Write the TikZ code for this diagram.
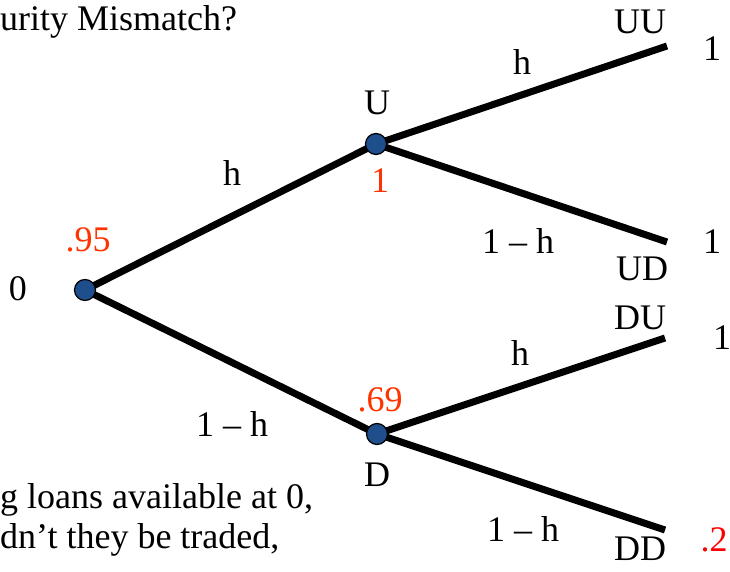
\documentclass[tikz,border=0pt]{standalone}
\usepackage{fontspec}
\setmainfont{Liberation Serif}
\usepackage{tikz}
\definecolor{nodeblue}{RGB}{31,78,140}
\definecolor{valorange}{RGB}{255,51,0}
\definecolor{valred}{RGB}{255,0,0}

\begin{document}
\begin{tikzpicture}[
  x=1pt,y=-1pt,
  font=\fontsize{36}{40}\selectfont,
  state/.style={circle,draw=black,line width=1.2pt,fill=nodeblue,minimum size=21pt,inner sep=0pt},
  branch/.style={line width=7pt,color=black},
  lbl/.style={inner sep=0pt,anchor=center},
  val/.style={inner sep=0pt,anchor=center,color=valorange},
]
\useasboundingbox (0,0) rectangle (730,572);

% leaves
\coordinate (uu) at (667,46);
\coordinate (ud) at (667,242);
\coordinate (du) at (665,338);
\coordinate (dd) at (665,530);

% branches
\draw[branch] (85,290) coordinate (o0) -- (376,144) coordinate (u0);
\draw[branch] (o0) -- (377,434) coordinate (d0);
\draw[branch] (u0) -- (uu);
\draw[branch] (u0) -- (ud);
\draw[branch] (d0) -- (du);
\draw[branch] (d0) -- (dd);

% states
\node[state] (root) at (o0) {};
\node[state] (up) at (u0) {};
\node[state] (down) at (d0) {};

% branch labels
\node[lbl] (h1) at (232,173) {h};
\node[lbl] (nh1) at (232,424) {1 -- h};
\node[lbl] (h2) at (522,62) {h};
\node[lbl] (nh2) at (518,241) {1 -- h};
\node[lbl] (h3) at (520,353) {h};
\node[lbl] (nh3) at (523,529) {1 -- h};

% state names
\node[lbl] (n0) at (18,289) {0};
\node[lbl] (nU) at (377,103) {U};
\node[lbl] (nD) at (377,475) {D};
\node[lbl] (nUU) at (640,22) {UU};
\node[lbl] (nUD) at (642,269) {UD};
\node[lbl] (nDU) at (640,318) {DU};
\node[lbl] (nDD) at (640,549) {DD};

% prices
\node[val] (p0) at (88,240) {.95};
\node[val] (pU) at (380,181) {1};
\node[val] (pD) at (380,400) {.69};
\node[lbl] (pUU) at (712,49) {1};
\node[lbl] (pUD) at (712,242) {1};
\node[lbl] (pDU) at (722,338) {1};
\node[val,color=valred] (pDD) at (714,540) {.2};

% cut-off text
\node[inner sep=0pt,anchor=west] (title) at (0,22) {urity Mismatch?};
\node[inner sep=0pt,anchor=west] (txt1) at (0,500) {g loans available at 0,};
\node[inner sep=0pt,anchor=west] (txt2) at (0,540) {dn’t they be traded,};
\end{tikzpicture}
\end{document}
